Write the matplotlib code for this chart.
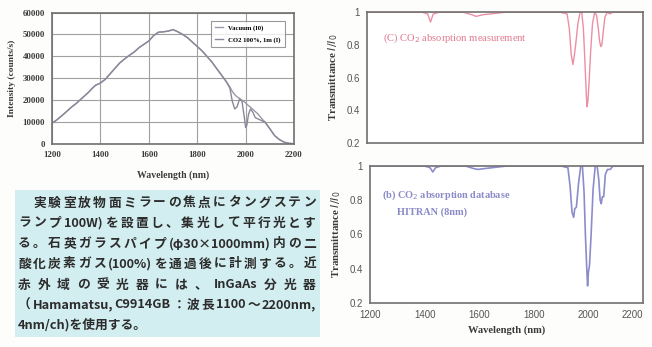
import matplotlib
matplotlib.use("Agg")
import matplotlib.pyplot as plt
from matplotlib.patches import Rectangle

# intensity spectrum (counts/s)
wl_int = [1200, 1220, 1250, 1280, 1300, 1330, 1350, 1370, 1380, 1400, 1420, 1440, 1460, 1480,
          1500, 1520, 1540, 1560, 1580, 1600, 1620, 1640, 1660, 1680, 1700, 1720, 1740, 1760,
          1780, 1800, 1820, 1840, 1860, 1880, 1900, 1920, 1935, 1945, 1955, 1965, 1975, 1985,
          1995, 2000, 2005, 2012, 2020, 2030, 2040, 2050, 2060, 2070, 2080, 2090, 2100, 2120,
          2140, 2160, 2180, 2200]
vacuum = [9500, 11000, 13800, 16800, 18500, 21500, 23500, 25800, 26800, 27800, 29500, 32000,
          34500, 37000, 38800, 40500, 42000, 44000, 45500, 47000, 49500, 51000, 51200, 51500,
          52200, 51200, 50000, 48500, 46500, 44500, 42500, 40000, 37500, 34500, 31500, 28500,
          26000, 24000, 22500, 21500, 20800, 20000, 19200, 18800, 18200, 17500, 16800, 15800,
          14800, 13800, 12500, 11200, 10000, 8500, 7000, 3800, 2000, 800, 300, 100]
co2 = [9500, 11000, 13800, 16800, 18500, 21500, 23500, 25800, 26800, 27800, 29500, 32000,
       34500, 37000, 38800, 40500, 42000, 44000, 45500, 47000, 49500, 51000, 51200, 51500,
       52200, 51200, 50000, 48500, 46500, 44500, 42500, 40000, 37500, 34500, 31500, 28500,
       25500, 19500, 16000, 17000, 20500, 19500, 12000, 7500, 8500, 13500, 16000, 14500,
       12000, 11500, 11000, 10500, 10000, 8500, 7000, 3800, 2000, 800, 300, 100]

# transmittance
wl_t = [1200, 1300, 1400, 1420, 1430, 1440, 1460, 1550, 1580, 1595, 1620, 1700, 1800, 1900,
        1925, 1933, 1940, 1946, 1950, 1956, 1964, 1972, 1978, 1984, 1989, 1994, 1997, 2000,
        2004, 2010, 2017, 2025, 2032, 2038, 2043, 2047, 2051, 2056, 2062, 2070, 2080, 2090,
        2100, 2200]
t_meas = [1, 1, 1, 0.99, 0.94, 0.99, 1, 1, 0.985, 0.975, 0.985, 1, 1, 1,
          0.99, 0.9, 0.74, 0.68, 0.72, 0.8, 0.93, 1.0, 1.0, 0.9, 0.72, 0.52, 0.42, 0.45,
          0.55, 0.75, 0.93, 1.0, 0.98, 0.9, 0.82, 0.79, 0.8, 0.88, 0.97, 1.0, 0.99, 1,
          1, 1]
t_hitran = [1, 1, 1, 0.99, 0.965, 0.99, 1, 1, 0.985, 0.98, 0.985, 1, 1, 1,
            0.99, 0.88, 0.73, 0.70, 0.75, 0.76, 0.9, 1.0, 1.0, 0.85, 0.6, 0.4, 0.30, 0.38,
            0.42, 0.6, 0.86, 1.0, 1.0, 0.92, 0.8, 0.78, 0.82, 0.82, 0.95, 0.98, 0.98, 1,
            1, 1]

wl_ticks = [1200, 1400, 1600, 1800, 2000, 2200]
int_ticks = [0, 10000, 20000, 30000, 40000, 50000, 60000]
t_ticks = [0.2, 0.4, 0.6, 0.8, 1]
t_ticklabels = ["0.2", "0.4", "0.6", "0.8", "1"]

jp_lines = [
    "\u3000実験室放物面ミラーの焦点にタングステン",
    "ランプ100W) を設置し、集光して平行光とす",
    "る。石英ガラスパイプ (φ30×1000mm)内の二",
    "酸化炭素ガス(100%)を通過後に計測する。近",
    "赤外域の受光器には、InGaAs分光器",
    "（Hamamatsu, C9914GB：波長1100〜2200nm,",
    "4nm/ch)を使用する。",
]

W, H = 652, 347
fig = plt.figure(figsize=(W / 100, H / 100), dpi=100)
fig.patch.set_facecolor("#fdfdfb")

serif = "Liberation Serif"
sans = "Liberation Sans"
ink = "#3a3a3a"
frame = "#707070"


def px_axes(l, t, r, b):
    return fig.add_axes([l / W, 1 - b / H, (r - l) / W, (b - t) / H])


# --- intensity panel
ax1 = px_axes(52, 12.5, 294, 144)
ax1.plot(wl_int, vacuum, color="#9a98a8", lw=1.0, label="Vacuum (I0)")
ax1.plot(wl_int, co2, color="#8a8898", lw=1.0, label="CO2 100%, 1m (I)")
ax1.set_xlim(1200, 2200)
ax1.set_ylim(0, 60000)
ax1.set_xticks(wl_ticks)
ax1.set_yticks(int_ticks)
ax1.grid(True, color="#a0a0a0", lw=0.8)
ax1.tick_params(length=0, labelsize=6.3, colors=ink, pad=5)
for lab in ax1.get_xticklabels() + ax1.get_yticklabels():
    lab.set_fontfamily(serif)
    lab.set_fontweight("bold")
ax1.set_xlabel("Wavelength (nm)", fontsize=7, family=serif, weight="bold", color=ink, labelpad=8)
ax1.set_ylabel("Intensity (counts/s)", fontsize=6.8, family=serif, weight="bold", color=ink, labelpad=5)
for s in ax1.spines.values():
    s.set_color(frame)
    s.set_linewidth(1.2)
leg = ax1.legend(loc="upper right", prop={"family": serif, "weight": "bold", "size": 4.8},
                 frameon=True, fancybox=False, handlelength=1.2, borderpad=0.6, labelspacing=0.9,
                 bbox_to_anchor=(0.975, 0.96))
leg.get_frame().set_edgecolor("#808080")
leg.get_frame().set_linewidth(0.8)

# --- transmittance panels
ax2 = px_axes(367, 12.3, 643, 142.7)
ax2.plot(wl_t, t_meas, color="#ec8fa4", lw=1.0)
ax2.text(0.058, 0.78, "(C) CO$_2$ absorption measurement", transform=ax2.transAxes,
         fontsize=7.6, family=serif, color="#e07a8e")

ax3 = px_axes(370, 166, 643, 303)
ax3.plot(wl_t, t_hitran, color="#8c8ccc", lw=1.2)
ax3.text(0.045, 0.77, "(b) CO$_2$ absorption database", transform=ax3.transAxes,
         fontsize=7.4, family=serif, weight="bold", color="#8a8ac8")
ax3.text(0.1, 0.645, "HITRAN (8nm)", transform=ax3.transAxes,
         fontsize=7.4, family=serif, weight="bold", color="#8a8ac8")

for ax in (ax2, ax3):
    ax.set_xlim(1200, 2200)
    ax.set_ylim(0.2, 1)
    ax.set_xticks(wl_ticks)
    ax.set_yticks(t_ticks)
    ax.set_yticklabels(t_ticklabels)
    ax.tick_params(length=0, labelsize=7, colors="#555555", pad=5)
    for lab in ax.get_xticklabels() + ax.get_yticklabels():
        lab.set_fontfamily(sans)
    ax.set_ylabel("Transmittance $I/I_0$", fontsize=7.8, family=serif, weight="bold",
                  color=ink, labelpad=5)
    for s in ax.spines.values():
        s.set_color(frame)
        s.set_linewidth(1.2)

ax2.set_xticklabels([])
ax3.set_xlabel("Wavelength (nm)", fontsize=7.6, family=serif, weight="bold", color=ink, labelpad=4)
ax3.get_xticklabels()[-1].set_horizontalalignment("right")
ax3.get_xticklabels()[-1].set_x(2215)

# --- description box
fig.patches.append(Rectangle((15 / W, 1 - 337 / H), 305 / W, 147 / H, transform=fig.transFigure,
                             facecolor="#d3eef0", edgecolor="none", zorder=0))

renderer = fig.canvas.get_renderer()
line_y = [203, 223, 244, 264, 285, 305, 325]
x_left, x_right = 18, 316
jp_fam = ["Noto Sans CJK JP", "DejaVu Sans"]
jp_size = 9.2
for i, (line, y) in enumerate(zip(jp_lines, line_y)):
    if i == len(jp_lines) - 1:
        fig.text(x_left / W, 1 - y / H, line, fontsize=jp_size, family=jp_fam, weight="bold",
                 color="#2c2c2c", va="center", ha="left")
        continue
    # justify: split into cjk chars and latin runs
    tokens = []
    buf = ""
    for ch in line:
        if ord(ch) < 0x2000 and ch != " ":
            buf += ch
        else:
            if buf:
                tokens.append(buf)
                buf = ""
            if ch != " ":
                tokens.append(ch)
    if buf:
        tokens.append(buf)
    texts = [fig.text(0, 1 - y / H, tok, fontsize=jp_size, family=jp_fam, weight="bold",
                      color="#2c2c2c", va="center", ha="left") for tok in tokens]
    widths = [t.get_window_extent(renderer).width for t in texts]
    gap = (x_right - x_left - sum(widths)) / max(len(tokens) - 1, 1)
    x = x_left
    for t, w in zip(texts, widths):
        t.set_x(x / W)
        x += w + gap

fig.savefig("out.png", dpi=100, facecolor=fig.get_facecolor())
